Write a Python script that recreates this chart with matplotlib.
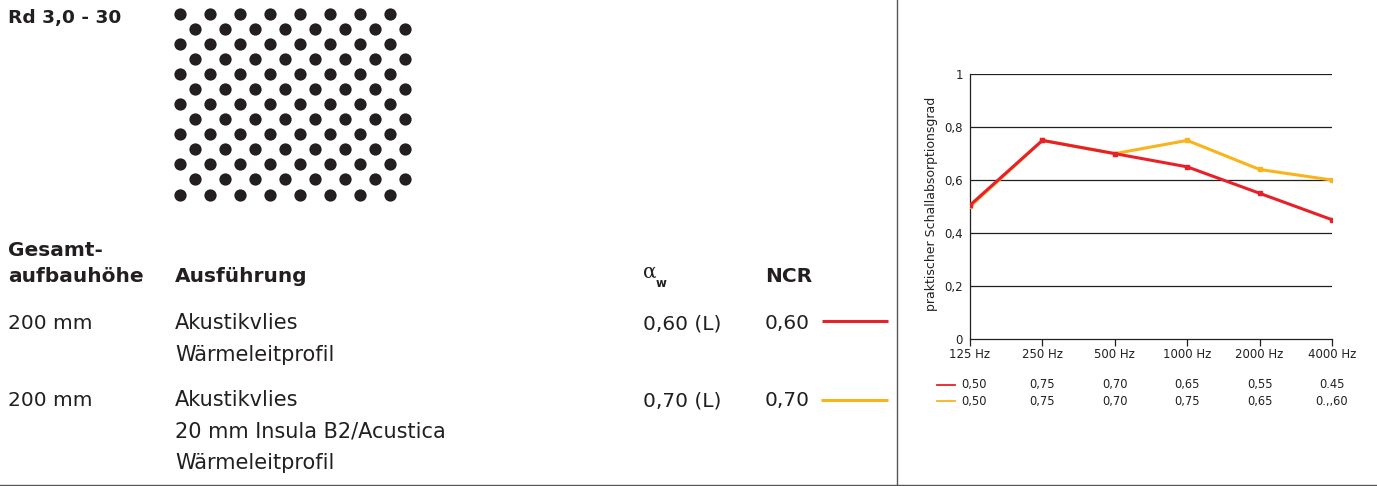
import matplotlib.pyplot as plt
import numpy as np
from matplotlib.patches import Rectangle
from matplotlib.transforms import blended_transform_factory

# Input data
freqs = ["125 Hz", "250 Hz", "500 Hz", "1000 Hz", "2000 Hz", "4000 Hz"]
red_vals = [0.505, 0.75, 0.70, 0.65, 0.55, 0.45]
yellow_vals = [0.50, 0.75, 0.70, 0.75, 0.64, 0.60]
red_txt = ["0,50", "0,75", "0,70", "0,65", "0,55", "0.45"]
yellow_txt = ["0,50", "0,75", "0,70", "0,75", "0,65", "0.,,60"]
yticks = [0, 0.2, 0.4, 0.6, 0.8, 1]
ytick_labels = ["0", "0,2", "0,4", "0,6", "0,8", "1"]

heights = ["200 mm", "200 mm"]
designs = [["Akustikvlies", "Wärmeleitprofil"],
           ["Akustikvlies", "20 mm Insula B2/Acustica", "Wärmeleitprofil"]]
alpha_w = ["0,60 (L)", "0,70 (L)"]
ncr = ["0,60", "0,70"]

RED = "#e8202a"
YELLOW = "#f9b31b"
INK = "#231f20"

W, H = 1377, 486
fig = plt.figure(figsize=(W / 100, H / 100), dpi=100)

# overlay in pixel coordinates for the table part
bg = fig.add_axes([0, 0, 1, 1])
bg.set_xlim(0, W)
bg.set_ylim(H, 0)
bg.axis("off")

# perforation pattern
rows = np.arange(13)
pts_x, pts_y = [], []
for r in rows:
    xs = np.arange(8) * 30 + (180 if r % 2 == 0 else 195)
    pts_x.extend(xs)
    pts_y.extend([14.5 + r * 15] * len(xs))
sc = bg.scatter(pts_x, pts_y, s=78, color=INK, linewidths=0)
clip = Rectangle((165, 0), 246, 215, transform=bg.transData)
sc.set_clip_path(clip)

big = 14.5
kw = dict(fontsize=big, color=INK, va="baseline")
bg.text(8, 23, "Rd 3,0 - 30", fontweight="bold", fontsize=13.3, color=INK, va="baseline")
bg.text(8, 256, "Gesamt-", fontweight="bold", **kw)
bg.text(8, 281.5, "aufbauhöhe", fontweight="bold", **kw)
bg.text(175, 281.5, "Ausführung", fontweight="bold", **kw)
bg.text(765, 281.5, "NCR", fontweight="bold", **kw)
bg.text(643, 278, "α", fontsize=big, color=INK, va="baseline", family="DejaVu Serif")
bg.text(656, 287, "w", fontsize=8.5, color=INK, va="baseline", fontweight="bold")

row_y = [329, 406]
for i in range(2):
    bg.text(8, row_y[i], heights[i], **kw)
    for j, line in enumerate(designs[i]):
        bg.text(175, row_y[i] + j * 31.5, line, fontsize=15, color=INK, va="baseline")
    bg.text(643, row_y[i], alpha_w[i], **kw)
    bg.text(765, row_y[i], ncr[i], **kw)
bg.plot([822, 888], [321, 321], color=RED, lw=2.2, solid_capstyle="butt")
bg.plot([821, 888], [400, 400], color=YELLOW, lw=2.2, solid_capstyle="butt")

# frame lines
bg.plot([897, 897], [0, 485], color="#555555", lw=1)
bg.plot([0, W], [485, 485], color="#555555", lw=1)

# chart
ax = fig.add_axes([970 / W, 1 - 338.7 / H, 362 / W, 264.4 / H])
x = np.arange(len(freqs))
ax.plot(x, yellow_vals, color=YELLOW, lw=2.2, marker="s", ms=3, zorder=3)
ax.plot(x, red_vals, color=RED, lw=2.2, marker="s", ms=3, zorder=4)
ax.set_xlim(0, 5)
ax.set_ylim(0, 1)
for y in yticks[1:]:
    ax.axhline(y, color=INK, lw=0.9, zorder=1)
ax.set_yticks(yticks)
ax.set_yticklabels(ytick_labels)
ax.set_xticks(x)
ax.set_xticklabels(freqs)
ax.tick_params(axis="y", length=0, pad=5, labelsize=8.5, colors=INK)
ax.tick_params(axis="x", length=5, width=0.9, pad=2, labelsize=8.5, colors=INK)
for s in ["top", "right"]:
    ax.spines[s].set_visible(False)
for s in ["left", "bottom"]:
    ax.spines[s].set_color(INK)
    ax.spines[s].set_linewidth(0.9)
ax.text(-0.106, 0.51, "praktischer Schallabsorptionsgrad", transform=ax.transAxes,
        rotation=90, ha="center", va="center", fontsize=9, color=INK)

# value table under chart
tr = blended_transform_factory(ax.transData, bg.transData)
bg.plot([937, 955], [384.5, 384.5], color=RED, lw=1.3)
bg.plot([937, 955], [401, 401], color=YELLOW, lw=1.3)
for k in range(len(freqs)):
    for vals, yy in [(red_txt, 384.5), (yellow_txt, 401)]:
        if k == 0:
            bg.text(961, yy, vals[k], fontsize=8.3, color=INK, va="center", ha="left")
        else:
            ax.text(k, yy, vals[k], transform=tr, fontsize=8.3, color=INK,
                    va="center", ha="center")

plt.savefig("out.png", dpi=100)
plt.close()
